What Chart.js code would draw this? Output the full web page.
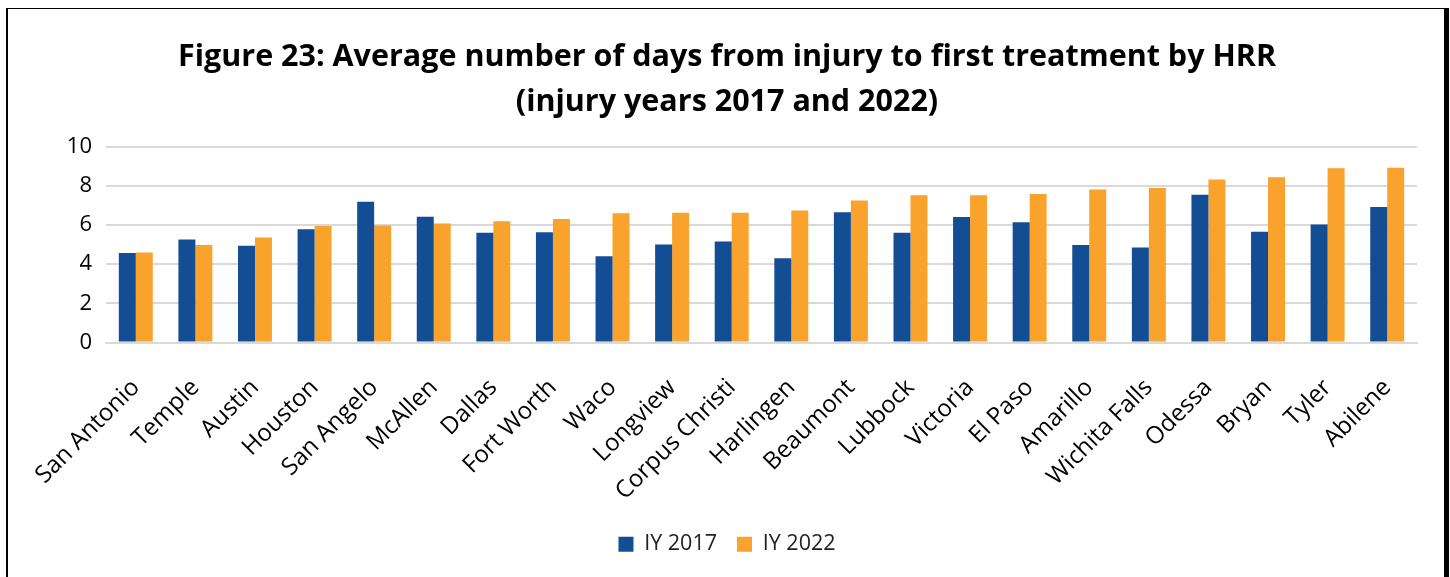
<!DOCTYPE html>
<html>
<head>
<meta charset="utf-8">
<script src="https://cdn.jsdelivr.net/npm/chart.js@4.4.1/dist/chart.umd.min.js"></script>
<style>
  html, body { margin: 0; padding: 0; background: #fff; }
  #wrap { position: relative; width: 1450px; height: 577px; overflow: hidden; }
  #frame { position: absolute; left: 6px; top: 8px; width: 1436px; height: 600px;
           border-left: 2px solid #000; border-top: 1px solid #000; border-right: 5px solid #000; box-sizing: content-box; }
  canvas { position: absolute; left: 0; top: 0; }
</style>
</head>
<body>
<div id="wrap">
  <canvas id="c" width="1450" height="577"></canvas>
  <div id="frame"></div>
</div>
<script>
const categories = ["San Antonio","Temple","Austin","Houston","San Angelo","McAllen","Dallas","Fort Worth","Waco","Longview","Corpus Christi","Harlingen","Beaumont","Lubbock","Victoria","El Paso","Amarillo","Wichita Falls","Odessa","Bryan","Tyler","Abilene"];
const iy2017 = [4.57,5.26,4.93,5.78,7.18,6.42,5.60,5.63,4.40,5.00,5.15,4.30,6.64,5.60,6.40,6.13,4.98,4.85,7.54,5.65,6.02,6.91];
const iy2022 = [4.59,4.97,5.36,5.94,5.97,6.07,6.18,6.30,6.59,6.62,6.62,6.74,7.24,7.51,7.51,7.58,7.81,7.88,8.31,8.43,8.89,8.92];
const yTicks = [0,2,4,6,8,10];
const titleLines = ["Figure 23: Average number of days from injury to first treatment by HRR","(injury years 2017 and 2022)"];

const FONT = "'Open Sans', 'Noto Sans', sans-serif";

new Chart(document.getElementById('c'), {
  type: 'bar',
  data: {
    labels: categories,
    datasets: [
      { label: 'IY 2017', data: iy2017, backgroundColor: '#134D93', borderWidth: 0 },
      { label: 'IY 2022', data: iy2022, backgroundColor: '#F9A22C', borderWidth: 0 }
    ]
  },
  options: {
    responsive: false,
    animation: false,
    devicePixelRatio: 1,
    layout: { padding: { left: 37, right: 33, top: 8, bottom: 12 } },
    datasets: { bar: { categoryPercentage: 0.57, barPercentage: 1.0 } },
    plugins: {
      title: {
        display: true,
        text: titleLines,
        color: '#000',
        font: { family: FONT, size: 30.5, weight: 'bold', lineHeight: 1.5 },
        padding: { top: 26, bottom: 21 }
      },
      legend: {
        position: 'bottom',
        labels: {
          color: '#222',
          font: { family: FONT, size: 21.5 },
          boxWidth: 15, boxHeight: 15,
          padding: 20
        }
      },
      tooltip: { enabled: false }
    },
    scales: {
      x: {
        grid: { display: false, drawTicks: false },
        border: { display: true, color: '#d9d9d9', width: 2 },
        ticks: {
          color: '#000',
          font: { family: FONT, size: 24 },
          maxRotation: 45, minRotation: 45,
          autoSkip: false,
          padding: 31
        },
        afterFit: (s) => { s.height = 171; }
      },
      y: {
        min: 0, max: 10,
        afterBuildTicks: (s) => { s.ticks = yTicks.map(v => ({ value: v })); },
        grid: { color: '#d9d9d9', lineWidth: 2, drawTicks: false },
        border: { display: false },
        ticks: {
          color: '#000',
          font: { family: FONT, size: 22 },
          padding: 14
        },
        afterFit: (s) => { s.width = 69; }
      }
    }
  }
});
</script>
</body>
</html>
